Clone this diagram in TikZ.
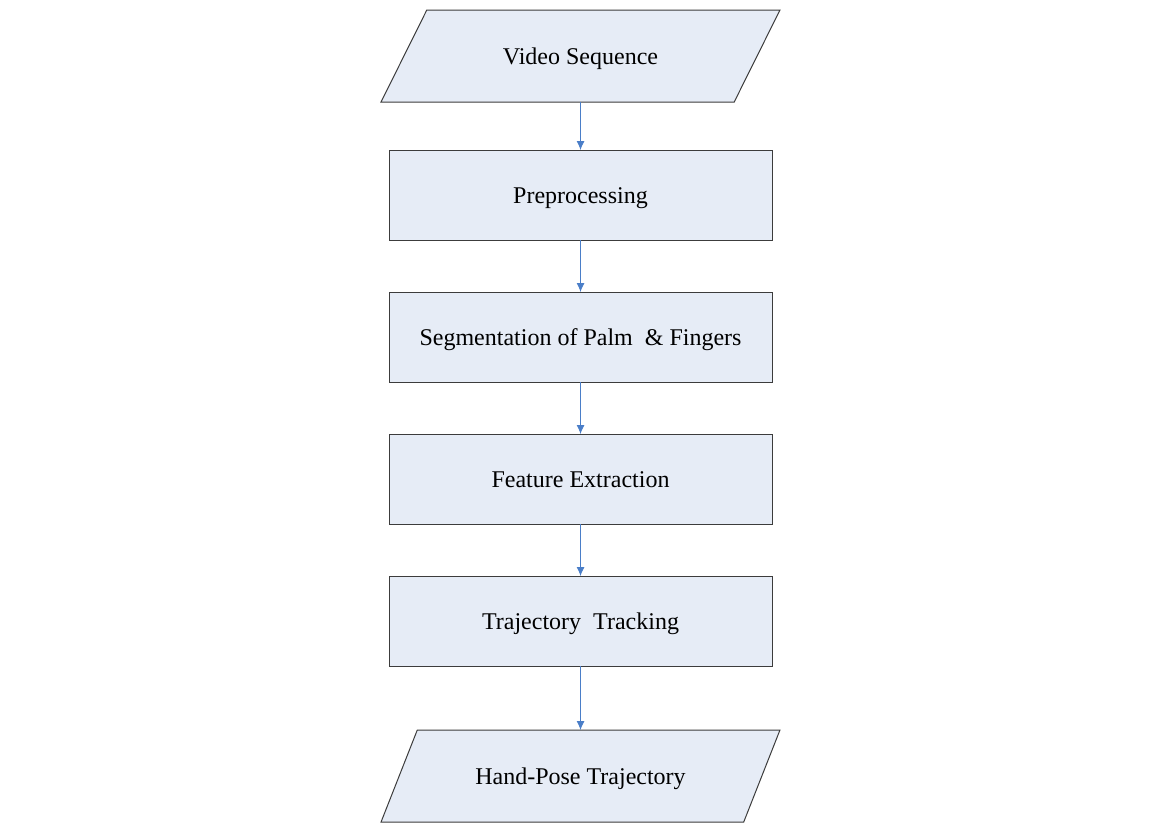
\documentclass[tikz,border=0pt]{standalone}
\usepackage{fontspec}
\setmainfont{Liberation Serif}
\usepackage{tikz}
\usetikzlibrary{arrows.meta, shapes.geometric, positioning}
\definecolor{boxblue}{RGB}{230,236,246}
\definecolor{arrblue}{RGB}{74,126,200}
\definecolor{boxline}{RGB}{60,60,60}
\tikzset{
  %process box style
  proc/.style={
    draw=boxline
    , fill=boxblue
    , line width=1pt
    , rectangle
    , outer sep=0pt
    , minimum width=383pt
    , minimum height=90pt
    , text height=22pt
    , text depth=4.5pt
    , anchor=center
    , text centered
    , font=\fontsize{24}{28}\selectfont
  },
}

\begin{document}
\begin{tikzpicture}[x=1pt,y=1pt]
  \tikzstyle{io}=[proc, trapezium, trapezium left angle=54, trapezium right angle=126,
                  trapezium stretches=true, minimum width=399pt, minimum height=92pt]
  %\tikzstyle{io}=[draw, fill=boxblue, trapezium]
  \tikzstyle{flow}=[draw=arrblue, line width=0.9pt, -{Latex[length=9pt,width=8pt]}]
  \useasboundingbox (0,0) rectangle (1151,-822);

  \node [io] (video) at (580.5,-56) {Video Sequence};
  \node [proc,below=48pt of video] (prep) {Preprocessing};
  \node [proc,below=52pt of prep] (seg) {Segmentation of Palm~ \& Fingers};
  \node [proc,below=52pt of seg] (feat) {Feature Extraction};
  \node [proc,below=52pt of feat] (track) {Trajectory~ Tracking};
  \node [io,below=64pt of track] (pose) {Hand-Pose Trajectory};

  \draw [flow] (video) -- (prep);
  \draw [flow] (prep) -- (seg);
  \draw [flow] (seg) -- (feat);
  \draw [flow] (feat) -- (track);
  \draw [flow] (track) -- (pose);

\end{tikzpicture}
\end{document}
